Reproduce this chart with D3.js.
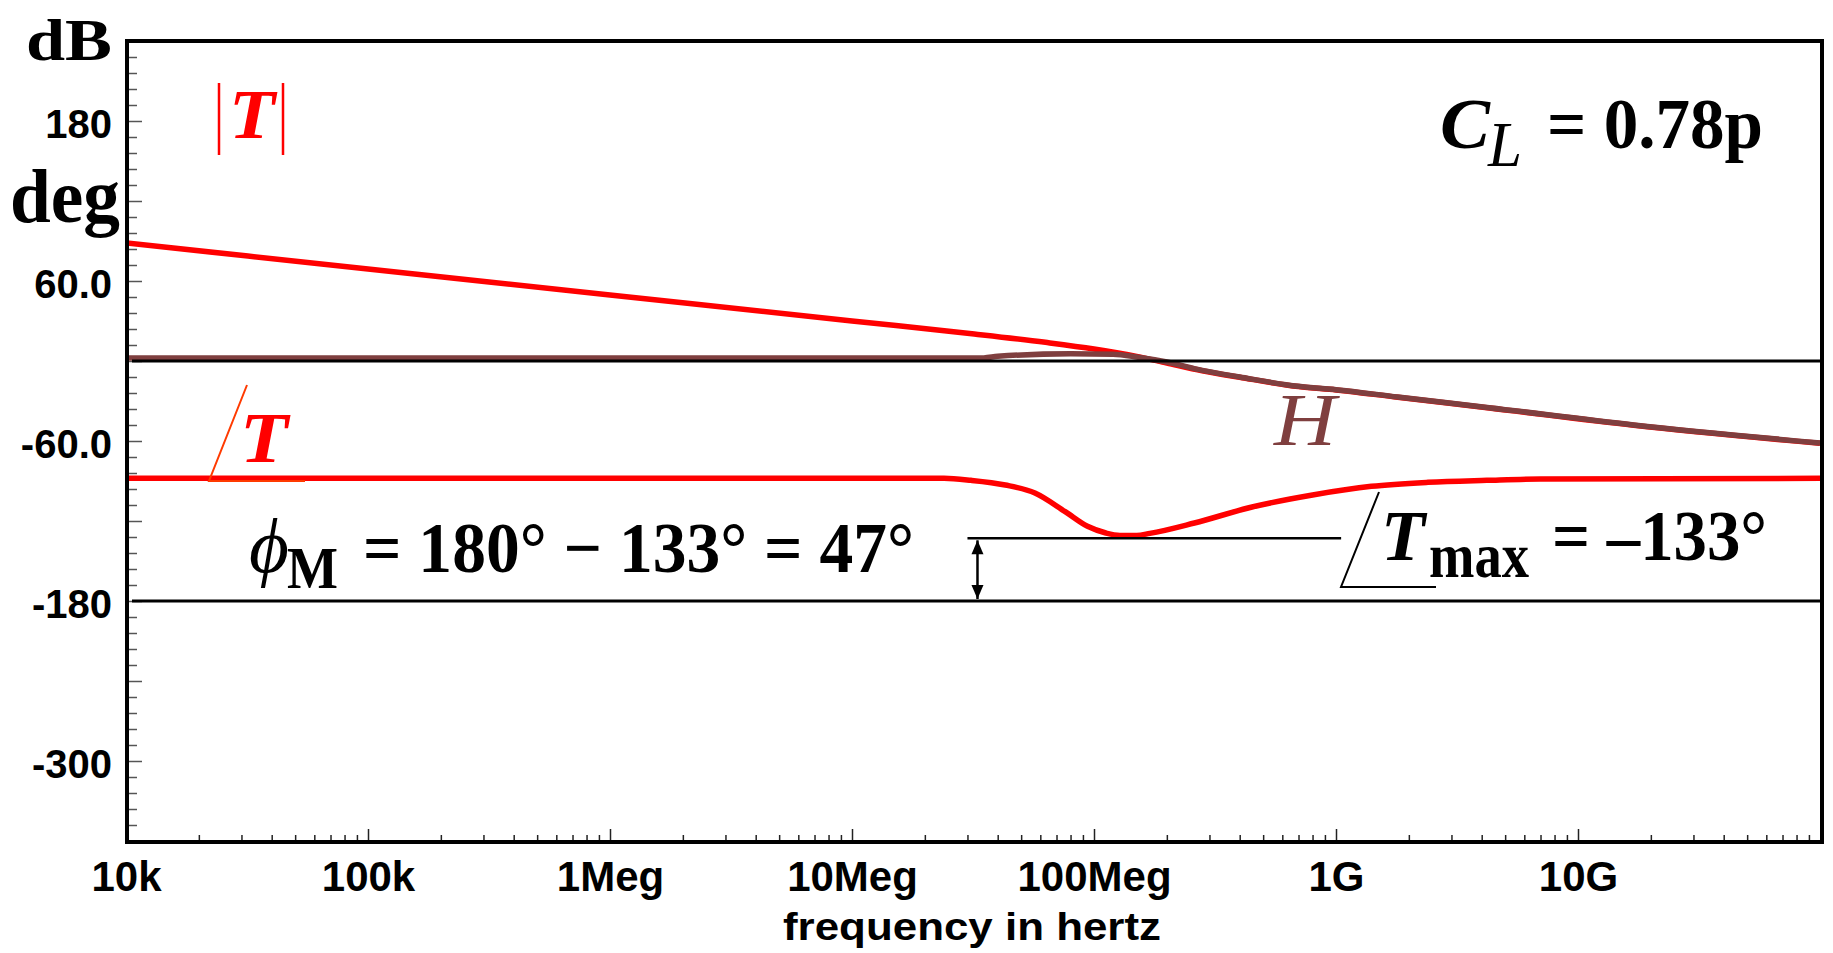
<!DOCTYPE html>
<html>
<head>
<meta charset="utf-8">
<script src="https://cdn.jsdelivr.net/npm/d3@7"></script>
<style>
body { margin: 0; background: #fff; }
svg { display: block; }
</style>
</head>
<body>
<div id="chart"></div>
<script>
// x axis: frequency in hertz (log)
var freqTicks = [1e4, 1e5, 1e6, 1e7, 1e8, 1e9, 1e10];
var freqLabels = ["10k", "100k", "1Meg", "10Meg", "100Meg", "1G", "10G"];

// y axis: dB / deg
var yTicks = [180, 60, -60, -180, -300];
var yLabels = ["180", "60.0", "-60.0", "-180", "-300"];

// |T| in dB
var magFreq = [1e4, 1e5, 1e6, 1e7, 3.2e7, 6.3e7, 1e8, 1.5e8, 2e8, 2.8e8, 4e8, 7e8, 1e9, 1.8e9, 4.3e9, 1.7e10, 1e11];
var magDb = [88.5, 69, 49.5, 30, 20.3, 14, 9, 3.5, -1.5, -7.3, -12.2, -19.2, -21.7, -27.2, -35.2, -48.2, -61.7];

// H in dB
var hFreq = [1e4, 3.5e7, 4e7, 8e7, 1.2e8, 1.5e8, 2e8, 2.8e8, 4e8, 7e8, 1e9, 1.8e9, 4.3e9, 1.7e10, 1e11];
var hDb = [2.2, 2.3, 3.5, 5.5, 5.0, 3.0, -0.8, -7, -12, -19, -21.5, -27, -35, -48, -61.5];

// phase of T in degrees
var phFreq = [1e4, 2.4e7, 3.1e7, 4.3e7, 5.7e7, 7.6e7, 9.4e7, 1.12e8, 1.28e8, 1.5e8, 1.7e8, 2.6e8, 4.5e8, 8e8, 1.4e9, 2.4e9, 4.2e9, 7e9, 1e11];
var phDeg = [-88, -88, -89.5, -93, -99, -113, -124, -129, -130.8, -130.8, -129.3, -121.5, -109.5, -100.5, -94, -91, -89.5, -88.5, -88];

// phase margin annotation
var phaseMax = -133;
var phaseRef = -180;
var maxLineFreq = [3e7, 1.05e9];
var arrowFreq = 3.3e7;

var svgWidth = 1833;
var svgHeight = 953;

var svg = d3.select("#chart")
    .append("svg")
    .attr("width", svgWidth)
    .attr("height", svgHeight)
    .style("background", "#fff");

var x = d3.scaleLog().domain([1e4, 1e11]).range([126, 1820]);
var y = d3.scaleLinear().domain([-360, 240]).range([841, 41]);

// plot box edges
var boxL = 127, boxR = 1822, boxT = 41, boxB = 842;

svg.append("clipPath").attr("id", "plot")
  .append("rect")
    .attr("x", boxL).attr("y", boxT)
    .attr("width", boxR - boxL).attr("height", boxB - boxT);

// y ticks (inside, on left edge)
var yMinor = d3.range(-348, 240, 12).filter(d => d % 60 !== 0);
var yMajor = d3.range(-300, 240, 60);

function tidy(g, color) {
  g.select(".domain").remove();
  g.selectAll(".tick line").attr("stroke", color).attr("stroke-width", 1.5);
}

svg.append("g")
    .attr("transform", `translate(${boxL}, 0)`)
    .call(d3.axisRight(y).tickValues(yMinor).tickSize(10).tickFormat(""))
    .call(g => tidy(g, "#555"));

svg.append("g")
    .attr("transform", `translate(${boxL}, 0)`)
    .call(d3.axisRight(y).tickValues(yMajor).tickSize(15).tickFormat(""))
    .call(g => tidy(g, "#555"));

var yLab = svg.append("g")
    .attr("transform", `translate(${boxL}, 0)`)
    .call(d3.axisLeft(y).tickValues(yTicks).tickSize(0).tickPadding(15)
      .tickFormat((d, i) => yLabels[i]));
yLab.select(".domain").remove();
yLab.selectAll("text")
    .attr("dy", "0.4em")
    .attr("fill", "#000")
    .style("font-family", "'Liberation Sans', Arial, sans-serif")
    .style("font-weight", "bold")
    .style("font-size", "40px");

// x ticks (inside, on bottom edge)
var xMinor = [];
d3.range(4, 11).forEach(function(p) {
  d3.range(2, 10).forEach(function(m) { xMinor.push(m * Math.pow(10, p)); });
});

svg.append("g")
    .attr("transform", `translate(0, ${boxB})`)
    .call(d3.axisTop(x).tickValues(xMinor).tickSize(7).tickFormat(""))
    .call(g => tidy(g, "#222"));

svg.append("g")
    .attr("transform", `translate(0, ${boxB})`)
    .call(d3.axisTop(x).tickValues(freqTicks.slice(1)).tickSize(13).tickFormat(""))
    .call(g => tidy(g, "#222"));

var xLab = svg.append("g")
    .attr("transform", `translate(0, ${boxB})`)
    .call(d3.axisBottom(x).tickValues(freqTicks).tickSize(0).tickPadding(19)
      .tickFormat((d, i) => freqLabels[i]));
xLab.select(".domain").remove();
xLab.selectAll("text")
    .attr("fill", "#000")
    .style("font-family", "'Liberation Sans', Arial, sans-serif")
    .style("font-weight", "bold")
    .style("font-size", "42px");

svg.append("text")
    .attr("x", 783).attr("y", 940)
    .attr("textLength", 378).attr("lengthAdjust", "spacingAndGlyphs")
    .style("font-family", "'Liberation Sans', Arial, sans-serif")
    .style("font-weight", "bold")
    .style("font-size", "39px")
    .text("frequency in hertz");

// curves
var curves = svg.append("g").attr("clip-path", "url(#plot)");

function lineOf(fs, vs) {
  return d3.line()
    .x((d, i) => x(fs[i]))
    .y(d => y(d))
    .curve(d3.curveMonotoneX)(vs);
}

curves.append("path")
    .attr("d", lineOf(magFreq, magDb))
    .attr("fill", "none").attr("stroke", "#ff0000").attr("stroke-width", 5.5);

curves.append("path")
    .attr("d", lineOf(phFreq, phDeg))
    .attr("fill", "none").attr("stroke", "#ff0000").attr("stroke-width", 5.5);

curves.append("path")
    .attr("d", lineOf(hFreq, hDb))
    .attr("fill", "none").attr("stroke", "#7f3f3f").attr("stroke-width", 5.5);

// reference lines at 0 dB and -180 deg
[0, phaseRef].forEach(function(v) {
  svg.append("line")
    .attr("x1", 132).attr("x2", boxR)
    .attr("y1", y(v)).attr("y2", y(v))
    .attr("stroke", "#000").attr("stroke-width", 3);
});

// max phase line and margin arrow
svg.append("line")
    .attr("x1", x(maxLineFreq[0])).attr("x2", x(maxLineFreq[1]))
    .attr("y1", y(phaseMax)).attr("y2", y(phaseMax))
    .attr("stroke", "#000").attr("stroke-width", 2.5);

var defs = svg.append("defs");
["start", "end"].forEach(function(k) {
  defs.append("marker")
      .attr("id", "arr-" + k)
      .attr("markerUnits", "userSpaceOnUse")
      .attr("markerWidth", 16).attr("markerHeight", 16)
      .attr("refX", 8).attr("refY", k === "end" ? 15 : 1)
      .attr("orient", "0")
    .append("path")
      .attr("d", k === "end" ? "M2,1 L14,1 L8,15 Z" : "M2,15 L14,15 L8,1 Z")
      .attr("fill", "#000");
});

svg.append("line")
    .attr("x1", x(arrowFreq)).attr("x2", x(arrowFreq))
    .attr("y1", y(phaseMax) + 2).attr("y2", y(phaseRef) - 2)
    .attr("stroke", "#000").attr("stroke-width", 2.5)
    .attr("marker-start", "url(#arr-start)")
    .attr("marker-end", "url(#arr-end)");

// frame
svg.append("rect")
    .attr("x", boxL).attr("y", boxT)
    .attr("width", boxR - boxL).attr("height", boxB - boxT)
    .attr("fill", "none").attr("stroke", "#000").attr("stroke-width", 4);

// text helpers
var serif = "'Liberation Serif', 'Times New Roman', serif";
function label(tx, ty, str, size, opts) {
  opts = opts || {};
  var t = svg.append("text")
      .attr("x", tx).attr("y", ty)
      .style("font-family", serif)
      .style("font-size", size + "px")
      .style("font-weight", opts.bold ? "bold" : "normal")
      .style("font-style", opts.italic ? "italic" : "normal")
      .attr("fill", opts.color || "#000")
      .text(str);
  if (opts.len) t.attr("textLength", opts.len).attr("lengthAdjust", "spacingAndGlyphs");
  return t;
}

// axis units
label(26, 60, "dB", 60, {bold: true, len: 86});
label(10, 222, "deg", 76, {bold: true, len: 110});

// |T|
svg.append("line").attr("x1", 219).attr("x2", 219).attr("y1", 83).attr("y2", 155)
    .attr("stroke", "#ff0000").attr("stroke-width", 2.5);
svg.append("line").attr("x1", 283).attr("x2", 283).attr("y1", 83).attr("y2", 155)
    .attr("stroke", "#ff0000").attr("stroke-width", 2.5);
label(229, 138, "T", 70, {bold: true, italic: true, color: "#ff0000", len: 46});

// angle T
svg.append("path").attr("d", "M247,385 L209,481 L305,481")
    .attr("fill", "none").attr("stroke", "#ff3a00").attr("stroke-width", 2);
label(240, 462, "T", 72, {bold: true, italic: true, color: "#ff0000", len: 48});

// H
label(1274, 445, "H", 74, {italic: true, color: "#7f3f3f", len: 62});

// C_L = 0.78p
label(1440, 148, "C", 72, {italic: true, bold: true, len: 50});
label(1488, 166, "L", 64, {italic: true, len: 34});
label(1547, 148, "= 0.78p", 72, {bold: true, len: 216});

// phi_M = 180 - 133 = 47
label(249, 572, "\u03D5", 76, {italic: true, len: 40});
label(287, 588, "M", 60, {bold: true, len: 51});
label(363, 572, "= 180\u00B0 \u2212 133\u00B0 = 47\u00B0", 72, {bold: true, len: 551});

// angle T_max = -133
svg.append("path").attr("d", "M1379,492 L1341,587 L1436,587")
    .attr("fill", "none").attr("stroke", "#000").attr("stroke-width", 2);
label(1381, 560, "T", 72, {italic: true, bold: true, len: 44});
label(1429, 577, "max", 64, {bold: true, len: 100});
label(1552, 560, "= \u2013133\u00B0", 72, {bold: true, len: 215});
</script>
</body>
</html>
